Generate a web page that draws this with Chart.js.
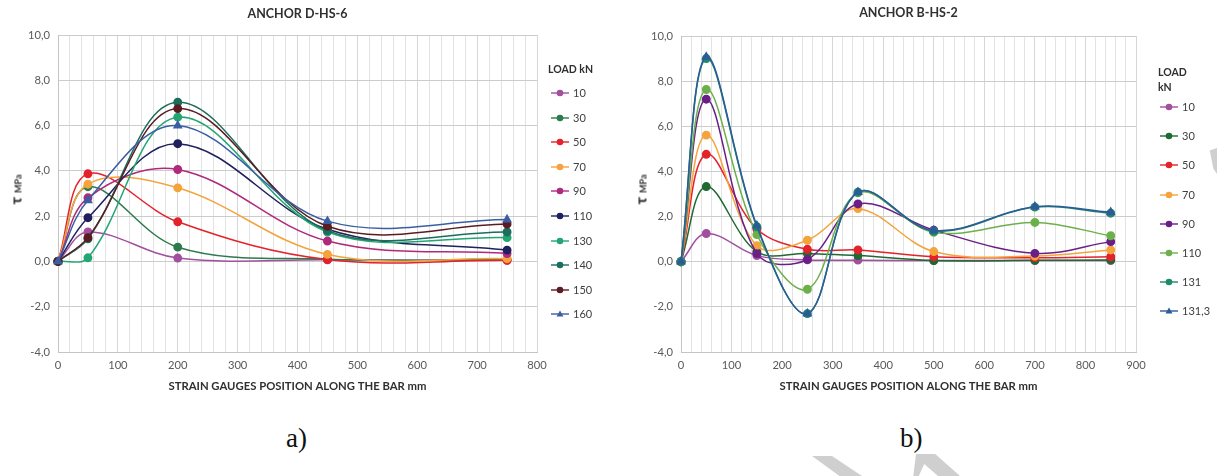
<!DOCTYPE html>
<html><head><meta charset="utf-8">
<script src="https://cdn.jsdelivr.net/npm/chart.js@4.4.0/dist/chart.umd.min.js"></script>
<style>
html,body{margin:0;padding:0;background:#fff;}
#wrap{position:relative;width:1217px;height:476px;overflow:hidden;font-family:Lato,'Open Sans',sans-serif;background:#fff;}
.box{position:absolute;top:0;}
.leg{position:absolute;font-size:11px;color:#404040;}
.legt{position:absolute;font-size:10.5px;font-weight:bold;color:#303030;line-height:15px;}
.item{position:absolute;height:14px;line-height:14px;white-space:nowrap;}
.item svg{position:absolute;left:0;top:0;}
.item span{position:absolute;left:22px;top:0;}
.ytitle{position:absolute;transform:rotate(-90deg);transform-origin:center center;white-space:nowrap;font-weight:bold;color:#303030;}
.cap{position:absolute;font-family:'Liberation Serif','DejaVu Serif',serif;font-size:27px;color:#111;}
.wm{position:absolute;background:#cfcfcf;}
</style></head><body>
<div id="wrap">
  <div class="box" style="left:0;width:600px;height:400px"><canvas id="cA" width="600" height="400"></canvas></div>
  <div class="box" style="left:620px;width:597px;height:400px"><canvas id="cB" width="597" height="400"></canvas></div>
  <div class="ytitle" style="left:-8px;top:180px;width:46px;text-align:center"><span style="font-size:16px">τ</span> <span style="font-size:9px">MPa</span></div>
  <div class="ytitle" style="left:617px;top:180px;width:46px;text-align:center"><span style="font-size:16px">τ</span> <span style="font-size:9px">MPa</span></div>
  <div id="legA"></div>
  <div id="legB"></div>
  <div class="cap" style="left:286px;top:423px">a)</div>
  <div class="cap" style="left:900px;top:423px">b)</div>
  <div class="wm" style="left:1205px;top:148px;width:12px;height:26px;clip-path:polygon(40% 10%,100% 0,100% 100%,70% 80%)"></div>
  <div class="wm" style="left:812px;top:456px;width:50px;height:20px;clip-path:polygon(0 0,40% 0,100% 100%,55% 100%)"></div>
  <div class="wm" style="left:905px;top:454px;width:55px;height:22px;clip-path:polygon(20% 0,55% 0,100% 100%,60% 100%,35% 45%,25% 100%,15% 100%)"></div>
</div>
<script>
// ---------- DATA: chart a) ANCHOR D-HS-6 ----------
const posA = [0, 50, 200, 450, 750];
const loadsA = ['10', '30', '50', '70', '90', '110', '130', '140', '150', '160'];
const a10  = [0, 1.30, 0.15, 0.07, 0.05];
const a30  = [0, 3.30, 0.63, 0.10, 0.08];
const a50  = [0, 3.87, 1.75, 0.08, 0.05];
const a70  = [0, 3.41, 3.25, 0.31, 0.12];
const a90  = [0, 2.81, 4.06, 0.90, 0.35];
const a110 = [0, 1.93, 5.20, 1.42, 0.50];
const a130 = [0, 0.16, 6.37, 1.30, 1.05];
const a140 = [0, 1.00, 7.03, 1.36, 1.30];
const a150 = [0, 1.05, 6.75, 1.55, 1.65];
const a160 = [0, 2.70, 6.00, 1.78, 1.85];
const seriesA = [a10, a30, a50, a70, a90, a110, a130, a140, a150, a160];

// ---------- DATA: chart b) ANCHOR B-HS-2 ----------
const posB = [0, 50, 150, 250, 350, 500, 700, 850];
const loadsB = ['10', '30', '50', '70', '90', '110', '131', '131,3'];
const b10   = [0, 1.25, 0.27, 0.08, 0.07, 0.05, 0.05, 0.05];
const b30   = [0, 3.33, 0.45, 0.36, 0.27, 0.05, 0.06, 0.08];
const b50   = [0, 4.76, 1.45, 0.55, 0.52, 0.22, 0.18, 0.22];
const b70   = [0, 5.61, 0.71, 0.95, 2.35, 0.45, 0.25, 0.52];
const b90   = [0, 7.20, 0.36, 0.10, 2.56, 1.40, 0.37, 0.89];
const b110  = [0, 7.63, 1.20, -1.22, 3.05, 1.30, 1.74, 1.15];
const b131  = [0, 9.00, 1.55, -2.30, 3.08, 1.35, 2.42, 2.15];
const b1313 = [0, 9.07, 1.60, -2.30, 3.08, 1.38, 2.44, 2.19];
const seriesB = [b10, b30, b50, b70, b90, b110, b131, b1313];

const yTicks = { min: -4, max: 10, step: 2 };

// ---------- STYLES ----------
const FONT = "Lato, 'Open Sans', sans-serif";
const colorsA = ['#a24f9f', '#2d7a4c', '#e3222b', '#f5a33c', '#b02a7c', '#20205e', '#23a673', '#1b6e5c', '#5a1c22', '#3b5ea3'];
const shapesA = ['circle','circle','circle','circle','circle','circle','circle','circle','circle','triangle'];
const colorsB = ['#a24f9f', '#1f6a32', '#e3222b', '#f5a33c', '#6a1f87', '#6cb04c', '#1c8a6b', '#2b5b98'];
const shapesB = ['circle','circle','circle','circle','circle','circle','circle','triangle'];

function mkSets(xs, series, labels, colors, shapes) {
  return series.map((ys, i) => ({
    label: labels[i],
    data: xs.map((x, j) => ({ x: x, y: ys[j] })),
    borderColor: colors[i], backgroundColor: colors[i],
    pointStyle: shapes[i], pointRadius: shapes[i] === 'triangle' ? 4.2 : 3.7,
    pointHoverRadius: 3.7, borderWidth: 1.5, tension: 0.36, fill: false, clip: false,
    order: -i
  }));
}

function mkOpts(xmax, yW, padRight, title, titlePad) {
  return {
    responsive: false, animation: false, events: [],
    layout: { padding: { left: 0, right: padRight, top: 0, bottom: 0 } },
    plugins: {
      legend: { display: false }, tooltip: { enabled: false },
      title: { display: true, text: title, fullSize: false, color: '#303030',
               font: { family: FONT, size: 12.5, weight: 'bold' }, padding: titlePad }
    },
    scales: {
      x: {
        type: 'linear', min: 0, max: xmax,
        afterFit(s) { s.height = 48; },
        ticks: { stepSize: 20, autoSkip: false, maxRotation: 0, padding: 7, color: '#595959',
                 font: { family: FONT, size: 11.2 },
                 callback: v => (v % 100 === 0 ? String(v) : '') },
        grid: { color: c => (c.tick && c.tick.value % 100 === 0 ? '#d6d6d6' : '#e3e3e3'), drawTicks: false, lineWidth: 1 },
        border: { color: '#c4c4c4' },
        title: { display: true, text: 'STRAIN GAUGES POSITION ALONG THE BAR mm', color: '#303030',
                 font: { family: FONT, size: 11.3, weight: 'bold' }, padding: { top: 0, bottom: 7 } }
      },
      y: {
        min: yTicks.min, max: yTicks.max,
        afterFit(s) { s.width = yW; },
        ticks: { stepSize: yTicks.step, padding: 8, color: '#595959', font: { family: FONT, size: 11.2 },
                 callback: v => Number(v).toFixed(1).replace('.', ',') },
        grid: { color: '#cccccc', drawTicks: false },
        border: { color: '#c4c4c4' }
      }
    }
  };
}

new Chart(document.getElementById('cA'), {
  type: 'line',
  data: { datasets: mkSets(posA, seriesA, loadsA, colorsA, shapesA) },
  options: mkOpts(800, 58, 63, 'ANCHOR D-HS-6', { top: 6, bottom: 14 })
});
new Chart(document.getElementById('cB'), {
  type: 'line',
  data: { datasets: mkSets(posB, seriesB, loadsB, colorsB, shapesB) },
  options: mkOpts(900, 61, 81, 'ANCHOR B-HS-2', { top: 5, bottom: 16 })
});

function icon(color, shape) {
  const m = shape === 'triangle'
    ? `<polygon points="9,3.5 12.5,9.5 5.5,9.5" fill="${color}"/>`
    : `<circle cx="9" cy="7" r="3.3" fill="${color}"/>`;
  return `<svg width="18" height="14"><line x1="0" y1="7" x2="18" y2="7" stroke="${color}" stroke-width="1.4"/>${m}</svg>`;
}
function buildLegend(id, titleHtml, tx, ty, labels, colors, shapes, ix, iy, step) {
  const el = document.getElementById(id);
  let h = `<div class="legt" style="left:${tx}px;top:${ty}px">${titleHtml}</div>`;
  labels.forEach((l, i) => {
    h += `<div class="item leg" style="left:${ix}px;top:${iy + i * step}px">${icon(colors[i], shapes[i])}<span>${l}</span></div>`;
  });
  el.innerHTML = h;
}
buildLegend('legA', 'LOAD kN', 548, 62, loadsA, colorsA, shapesA, 551, 86, 24.6);
buildLegend('legB', 'LOAD<br>kN', 1158, 65, loadsB, colorsB, shapesB, 1160, 100, 29.2);
</script>
</body></html>
